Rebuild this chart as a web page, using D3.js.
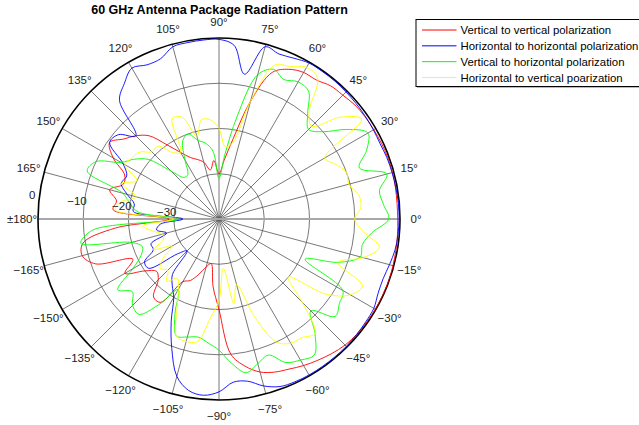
<!DOCTYPE html>
<html><head><meta charset="utf-8">
<script src="https://cdn.jsdelivr.net/npm/d3@7"></script>
<style>body{margin:0;background:#fff} svg{display:block;font-family:Arial,"Liberation Sans",sans-serif}</style>
</head><body><svg id="c" width="639" height="425"></svg>
<script>
const angles = [-180,-175,-170,-165,-160,-155,-150,-145,-140,-135,-130,-125,-120,-115,-110,-105,-100,-95,-90,-85,-80,-75,-70,-65,-60,-55,-50,-45,-40,-35,-30,-25,-20,-15,-10,-5,0,5,10,15,20,25,30,35,40,45,50,55,60,65,70,75,80,85,90,95,100,105,110,115,120,125,130,135,140,145,150,155,160,165,170,175];
const vv = [-29,-17,-9.5,-8.7,-11,-19,-16,-20,-22,-21,-17.5,-17.5,-24,-25,-27,-29,-30,-25,-20,-10,-7,-5,-4,-3.4,-2.6,-1.9,-1.2,-0.6,-0.3,-0.2,-0.1,-0.1,-0.1,-0.2,-0.3,-0.4,-0.5,-0.5,-0.4,-0.3,-0.3,-0.4,-0.5,-0.6,-0.8,-1.3,-1.6,-2.5,-2.6,-3.5,-5.5,-13,-22,-27,-30,-27,-29,-27,-26,-25,-23,-20,-16,-14,-12.5,-10.5,-13,-17,-17.5,-15,-17,-16.5];
const hh = [-32,-27,-26,-28,-24,-24,-21,-21,-28,-30,-24,-22,-20,-15,-9.5,-4,-1.5,-0.9,-1.8,-3.8,-3.6,-1.8,-0.6,-0.3,-0.2,-0.2,-0.2,-0.2,-0.3,-0.4,-0.5,-1.2,-1.4,-1.0,-0.5,-0.3,-0.2,-0.2,-0.3,-0.4,-0.5,-0.7,-0.6,-0.5,-0.4,-0.3,-0.2,-0.2,-0.2,-0.8,-1.2,-0.6,-7.5,-1.5,-0.3,-0.3,-0.4,-0.6,-2.3,-2.4,-1.5,-3.5,-5.8,-14,-11,-10.5,-15.5,-17.5,-17,-19,-21,-21];
const vh = [-31,-12,-9,-20,-22,-21,-18,-12.7,-15,-13,-12.5,-17,-22,-17,-12.5,-13,-13.5,-12.5,-11,-8,-5.5,-6.9,-8,-5,-4,-3.3,-7,-11.3,-6.5,-7.5,-8.4,-19,-12,-7.7,-7.8,-6,-2.5,-3.5,-4,-1.6,-7,-4,-2,-5.5,-10,-12,-9.5,-5.5,-5,-6,-4.8,-7,-17,-26,-31,-25,-23,-22,-20,-21,-25,-28,-28,-25,-19.5,-17,-15,-10,-9,-18,-20,-22];
const hv = [-30,-23,-25,-27,-27,-24,-28,-25,-23,-24,-22,-24,-22,-18,-12.5,-12,-12.5,-18,-22,-29,-21,-25,-17,-10,-8.3,-8,-7,-14,-20,-11,-6.5,-5,-12,-7,-4,-8,-10,-8.5,-8.7,-10.3,-10,-11.5,-13,-1.5,-5,-11,-9,-2,-1.3,-2.8,-3.8,-13,-23,-24,-20,-18,-17.7,-21,-16,-15.5,-23,-22,-19,-19,-17,-16.5,-16,-20,-17,-21,-18,-17];
const seriesNames = ["Vertical to vertical polarization","Horizontal to horizontal polarization","Vertical to horizontal polarization","Horizontal to vertical poarization"];
const seriesColors = ["#ff0000","#0000ff","#00ff00","#ffff00"];
const ringValues = [-30,-20,-10,0];
const ringLabels = ["\u221230","\u221220","\u221210","0"];
const spokeAngles = [0,15,30,45,60,75,90,105,120,135,150,165,180,-165,-150,-135,-120,-105,-90,-75,-60,-45,-30,-15];
const spokeLabels = ["0\u00b0","15\u00b0","30\u00b0","45\u00b0","60\u00b0","75\u00b0","90\u00b0","105\u00b0","120\u00b0","135\u00b0","150\u00b0","165\u00b0","\u00b1180\u00b0","\u2212165\u00b0","\u2212150\u00b0","\u2212135\u00b0","\u2212120\u00b0","\u2212105\u00b0","\u221290\u00b0","\u221275\u00b0","\u221260\u00b0","\u221245\u00b0","\u221230\u00b0","\u221215\u00b0"];
const title = "60 GHz Antenna Package Radiation Pattern";

const svg = d3.select("#c");
const cx = 219, cy = 219, R = 181;
const r = d3.scaleLinear().domain([-40, 0]).range([0, R]).clamp(true);
const a = d3.scaleLinear().domain([-180, 180]).range([1.5 * Math.PI, -0.5 * Math.PI]);
const g = svg.append("g").attr("transform", `translate(${cx},${cy})`);
const px = (ang, rad) => rad * Math.sin(a(ang));
const py = (ang, rad) => -rad * Math.cos(a(ang));

// rings
g.selectAll("circle.ring").data(ringValues.slice(0, 3)).join("circle")
  .attr("r", d => r(d)).attr("fill", "none").attr("stroke", "#555").attr("stroke-width", 0.8);
// spokes
g.selectAll("line.spoke").data(spokeAngles.filter(d => d !== 0 && d !== 180)).join("line")
  .attr("x1", 0).attr("y1", 0)
  .attr("x2", d => px(d, R)).attr("y2", d => py(d, R))
  .attr("stroke", "#555").attr("stroke-width", 0.8);
// horizontal axis
g.append("line").attr("x1", px(180, R)).attr("y1", 0).attr("x2", px(0, R)).attr("y2", 0)
  .attr("stroke", "#a8a8a8").attr("stroke-width", 2);
// outer circle
g.append("circle").attr("r", R).attr("fill", "none").attr("stroke", "#000").attr("stroke-width", 1.6);

// series
const line = d3.lineRadial().angle(d => a(d[0])).radius(d => r(d[1])).curve(d3.curveCatmullRomClosed.alpha(0.5));
[vv, hh, vh, hv].forEach((s, i) => {
  g.append("path").datum(angles.map((ang, j) => [ang, s[j]]))
    .attr("d", line).attr("fill", "none").attr("stroke", seriesColors[i]).attr("stroke-width", 0.9);
});

// angle labels
g.selectAll("text.ang").data(spokeAngles).join("text")
  .attr("x", d => px(d, 197)).attr("y", d => py(d, 197))
  .attr("text-anchor", "middle").attr("dominant-baseline", "central")
  .attr("font-size", 11.5).attr("fill", "#222")
  .text((d, i) => spokeLabels[i]);
// ring labels
g.selectAll("text.rl").data(ringValues).join("text")
  .attr("x", d => px(172.6, r(d) + 7.5)).attr("y", d => py(172.6, r(d) + 7.5))
  .attr("text-anchor", "middle").attr("dominant-baseline", "central")
  .attr("font-size", 11.5).attr("fill", "#222")
  .text((d, i) => ringLabels[i]);

// title
svg.append("text").attr("x", 219.5).attr("y", 14).attr("text-anchor", "middle")
  .attr("font-weight", "bold").attr("font-size", 12.5).attr("fill", "#000").text(title);

// legend
const lg = svg.append("g");
lg.append("rect").attr("x", 417).attr("y", 21).attr("width", 240).attr("height", 67).attr("fill", "#bbb");
lg.append("rect").attr("x", 416).attr("y", 19.5).attr("width", 240).attr("height", 67).attr("fill", "#fff").attr("stroke", "#000").attr("stroke-width", 1);
const rowY = d3.scalePoint().domain(seriesNames).range([30, 77.5]);
seriesNames.forEach((n, i) => {
  lg.append("line").attr("x1", 422).attr("x2", 456.5).attr("y1", rowY(n)).attr("y2", rowY(n))
    .attr("stroke", seriesColors[i]).attr("stroke-width", 1);
  lg.append("text").attr("x", 460.5).attr("y", rowY(n)).attr("dominant-baseline", "central")
    .attr("font-size", 11.4).attr("fill", "#000").text(n);
});
</script></body></html>
